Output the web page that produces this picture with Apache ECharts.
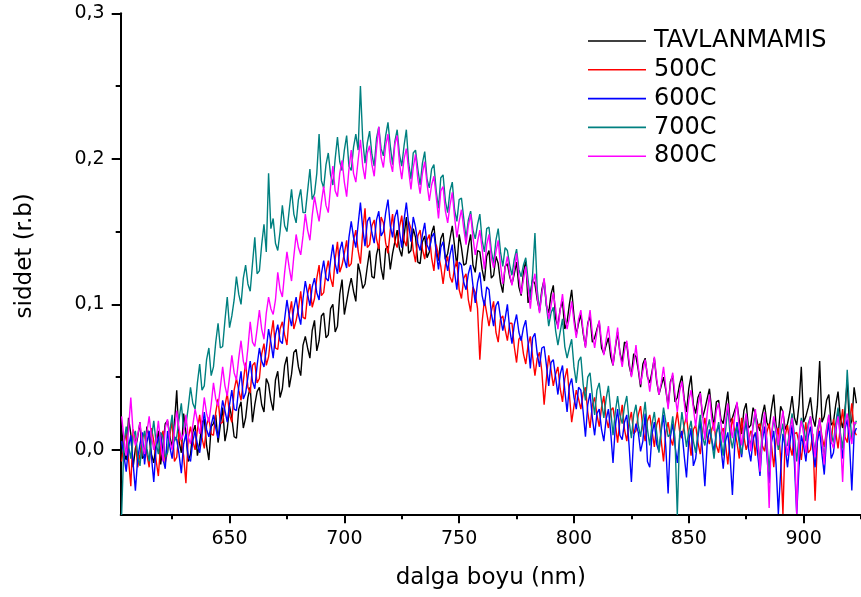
<!DOCTYPE html>
<html>
<head>
<meta charset="utf-8">
<script src="https://cdn.jsdelivr.net/npm/echarts@6.0.0/dist/echarts.min.js"></script>
<style>
html,body{margin:0;padding:0;background:#fff;}
#chart{width:861px;height:597px;}
</style>
</head>
<body>
<div id="chart"></div>
<script>
// ---- data ----
const seriesNames = ['TAVLANMAMIS', '500C', '600C', '700C', '800C'];
const xAxisName = 'dalga boyu (nm)';
const yAxisName = 'siddet (r.b)';
const xMajorTicks = [650, 700, 750, 800, 850, 900];
const xMinorTicks = [625, 675, 725, 775, 825, 875, 925];
const yMajorTicks = [0, 0.1, 0.2, 0.3];
const yMinorTicks = [0.05, 0.15, 0.25];

const wavelength = [
603,604,605,606,607,608,609,610,611,612,613,614,615,616,617,618,619,620,621,622,623,624,625,626,627,628,629,630,631,632,633,634,635,636,637,638,639,640,641,642,643,644,645,646,647,648,649,650,651,652,653,654,655,656,657,658,659,660,661,662,663,664,665,666,667,668,669,670,671,672,673,674,675,676,677,678,679,680,681,682,683,684,685,686,687,688,689,690,691,692,693,694,695,696,697,698,699,
700,701,702,703,704,705,706,707,708,709,710,711,712,713,714,715,716,717,718,719,720,721,722,723,724,725,726,727,728,729,730,731,732,733,734,735,736,737,738,739,740,741,742,743,744,745,746,747,748,749,750,751,752,753,754,755,756,757,758,759,760,761,762,763,764,765,766,767,768,769,770,771,772,773,774,775,776,777,778,779,780,781,782,783,784,785,786,787,788,789,790,791,792,793,794,795,796,797,798,799,
800,801,802,803,804,805,806,807,808,809,810,811,812,813,814,815,816,817,818,819,820,821,822,823,824,825,826,827,828,829,830,831,832,833,834,835,836,837,838,839,840,841,842,843,844,845,846,847,848,849,850,851,852,853,854,855,856,857,858,859,860,861,862,863,864,865,866,867,868,869,870,871,872,873,874,875,876,877,878,879,880,881,882,883,884,885,886,887,888,889,890,891,892,893,894,895,896,897,898,899,
900,901,902,903,904,905,906,907,908,909,910,911,912,913,914,915,916,917,918,919,920,921,922,923];

const tavlanmamis = [
0.015,-0.002,-0.007,0.022,0.011,-0.012,0.001,0.009,0.019,-0.006,
-0.004,0.016,0.008,-0.003,-0.009,0.004,0.013,-0.01,0.003,0.018,
0.02,0.009,0.002,0.018,0.041,0.006,-0.002,0.025,0.012,-0.008,
-0.003,0.012,0.017,-0.004,0.005,0.019,0.021,0.003,-0.007,0.016,
0.018,0.024,0.005,0.017,0.029,0.006,0.014,0.03,0.022,0.009,
0.008,0.028,0.033,0.015,0.022,0.036,0.043,0.019,0.031,0.04,
0.043,0.031,0.026,0.049,0.045,0.034,0.027,0.048,0.054,0.036,
0.042,0.058,0.064,0.043,0.052,0.067,0.069,0.057,0.051,0.072,
0.078,0.07,0.063,0.082,0.089,0.068,0.075,0.092,0.094,0.077,
0.079,0.097,0.1,0.081,0.085,0.107,0.117,0.093,0.102,0.111,
0.118,0.109,0.102,0.128,0.121,0.111,0.114,0.126,0.137,0.119,
0.118,0.134,0.141,0.125,0.117,0.138,0.14,0.124,0.135,0.143,
0.151,0.138,0.133,0.147,0.16,0.135,0.137,0.152,0.146,0.129,
0.128,0.143,0.147,0.132,0.136,0.149,0.154,0.138,0.13,0.145,
0.149,0.131,0.135,0.145,0.154,0.14,0.126,0.148,0.139,0.127,
0.128,0.14,0.148,0.127,0.122,0.137,0.136,0.124,0.116,0.133,
0.137,0.118,0.12,0.133,0.128,0.115,0.108,0.126,0.128,0.119,
0.114,0.121,0.129,0.112,0.106,0.122,0.13,0.101,0.108,0.117,
0.114,0.103,0.096,0.11,0.117,0.099,0.094,0.107,0.113,0.09,
0.085,0.097,0.102,0.083,0.088,0.1,0.11,0.092,0.079,0.087,
0.093,0.08,0.071,0.087,0.092,0.074,0.077,0.083,0.088,0.07,
0.066,0.072,0.077,0.064,0.058,0.07,0.081,0.067,0.06,0.074,
0.073,0.058,0.051,0.066,0.064,0.055,0.043,0.059,0.063,0.05,
0.046,0.054,0.063,0.047,0.038,0.044,0.05,0.041,0.03,0.047,
0.051,0.033,0.036,0.045,0.051,0.035,0.026,0.042,0.051,0.031,
0.025,0.036,0.04,0.022,0.028,0.035,0.042,0.027,0.016,0.033,
0.034,0.021,0.018,0.029,0.04,0.019,0.022,0.027,0.032,0.02,
0.011,0.027,0.032,0.015,0.017,0.029,0.025,0.018,0.013,0.024,
0.031,0.019,0.015,0.028,0.038,0.017,0.011,0.03,0.026,0.014,
0.018,0.026,0.037,0.022,0.017,0.031,0.057,0.019,0.023,0.029,
0.036,0.022,0.016,0.03,0.061,0.019,0.023,0.034,0.038,0.017,
0.019,0.031,0.04,0.022,0.015,0.027,0.048,0.016,0.02,0.043,
0.032];

const c500 = [
-0.008,0.004,0.012,-0.006,-0.025,0.014,0.006,-0.012,-0.003,0.009,
0.011,-0.003,-0.012,0.015,0.006,-0.007,-0.018,0.004,0.013,-0.009,
-0.001,0.01,0.02,-0.008,-0.005,0.013,0.006,-0.004,-0.023,0.008,
0.016,0.006,0.0,0.014,0.024,0.008,0.001,0.017,0.022,0.011,
0.01,0.026,0.035,0.018,0.019,0.03,0.039,0.024,0.019,0.041,
0.049,0.041,0.034,0.047,0.06,0.043,0.039,0.058,0.06,0.046,
0.049,0.066,0.073,0.058,0.064,0.078,0.089,0.07,0.069,0.083,
0.088,0.079,0.072,0.093,0.102,0.083,0.089,0.097,0.109,0.091,
0.09,0.107,0.114,0.098,0.104,0.118,0.127,0.106,0.108,0.122,
0.13,0.118,0.112,0.131,0.143,0.122,0.127,0.135,0.144,0.126,
0.128,0.144,0.151,0.137,0.128,0.15,0.166,0.139,0.141,0.154,
0.158,0.145,0.138,0.16,0.156,0.142,0.135,0.151,0.162,0.143,
0.139,0.153,0.161,0.144,0.14,0.157,0.152,0.137,0.129,0.147,
0.151,0.138,0.131,0.144,0.148,0.132,0.123,0.141,0.134,0.126,
0.114,0.127,0.133,0.119,0.115,0.125,0.13,0.11,0.104,0.118,
0.121,0.103,0.095,0.112,0.108,0.097,0.062,0.088,0.103,0.094,
0.085,0.095,0.102,0.081,0.074,0.09,0.092,0.083,0.075,0.087,
0.087,0.071,0.06,0.076,0.078,0.066,0.059,0.072,0.078,0.064,
0.051,0.063,0.067,0.054,0.031,0.049,0.065,0.055,0.044,0.052,
0.057,0.042,0.033,0.049,0.056,0.038,0.019,0.03,0.041,0.035,
0.028,0.039,0.043,0.026,0.015,0.031,0.036,0.024,0.016,0.029,
0.037,0.022,0.015,0.027,0.029,0.018,0.005,0.02,0.031,0.014,
0.006,0.019,0.026,0.011,0.013,0.024,0.03,0.015,0.006,0.02,
0.024,0.013,0.002,0.017,0.022,0.006,-0.008,0.012,0.019,0.008,
0.003,0.016,0.026,0.013,0.008,0.017,0.023,0.009,-0.004,0.014,
0.017,0.005,-0.003,0.012,0.022,0.009,0.004,0.014,0.019,0.003,
-0.002,0.011,0.015,0.004,-0.01,0.008,0.022,0.013,0.005,-0.006,
0.022,0.009,0.0,0.006,0.013,0.01,-0.004,0.016,0.018,0.003,
-0.001,0.012,0.018,0.004,-0.012,0.007,0.015,-0.006,-0.044,0.01,
0.017,0.003,-0.004,0.011,0.012,0.005,-0.007,0.008,0.019,-0.002,
0.0,0.011,-0.035,0.006,0.022,0.009,0.002,0.014,0.018,0.004,
0.021,0.012,0.001,0.016,0.028,0.009,0.005,0.019,0.032,0.013,
0.01];

const c600 = [
0.006,-0.004,-0.015,0.002,0.01,-0.009,-0.028,-0.006,0.004,0.012,
-0.01,0.005,0.013,-0.005,-0.022,0.001,0.008,0.011,-0.006,-0.013,
0.013,0.002,-0.006,0.009,0.007,-0.003,-0.016,0.004,0.011,-0.005,
-0.008,0.006,0.013,0.004,-0.002,0.011,0.026,0.014,0.009,0.017,
0.024,0.015,0.008,0.022,0.034,0.027,0.019,0.031,0.041,0.028,
0.027,0.043,0.054,0.035,0.039,0.05,0.061,0.047,0.042,0.058,
0.07,0.061,0.057,0.069,0.083,0.074,0.063,0.079,0.086,0.075,
0.073,0.09,0.103,0.092,0.085,0.097,0.105,0.093,0.086,0.104,
0.116,0.107,0.099,0.112,0.118,0.108,0.103,0.121,0.13,0.118,
0.116,0.13,0.141,0.128,0.121,0.137,0.143,0.131,0.125,0.146,
0.157,0.146,0.139,0.155,0.17,0.152,0.14,0.157,0.16,0.149,
0.142,0.158,0.164,0.147,0.15,0.163,0.172,0.154,0.146,0.16,
0.165,0.15,0.139,0.158,0.17,0.155,0.143,0.16,0.153,0.142,
0.137,0.148,0.156,0.141,0.137,0.146,0.149,0.136,0.124,0.139,
0.143,0.131,0.123,0.134,0.141,0.122,0.11,0.129,0.127,0.115,
0.11,0.121,0.127,0.113,0.101,0.115,0.122,0.106,0.099,0.112,
0.11,0.094,0.085,0.099,0.102,0.091,0.082,0.09,0.1,0.083,
0.073,0.086,0.093,0.081,0.075,0.084,0.089,0.074,0.056,0.077,
0.08,0.066,0.057,0.07,0.071,0.058,0.044,0.06,0.062,0.05,
0.038,0.052,0.058,0.041,0.026,0.044,0.049,0.036,0.028,0.043,
0.041,0.026,0.009,0.031,0.039,0.022,0.01,0.025,0.028,0.014,
0.006,0.021,0.028,0.012,-0.009,0.016,0.028,0.01,0.007,0.019,
0.024,0.003,-0.022,0.009,0.018,0.012,-0.001,0.006,0.025,-0.008,
-0.012,0.011,0.019,0.004,-0.001,0.013,0.024,0.002,-0.03,0.009,
0.018,0.003,-0.009,0.008,0.013,-0.004,-0.019,0.006,0.015,-0.011,
-0.006,0.009,0.02,-0.002,-0.025,0.004,0.014,0.007,-0.001,0.012,
0.017,0.002,-0.013,0.006,0.012,-0.005,-0.031,0.003,0.019,0.008,
-0.005,0.01,0.02,0.001,-0.008,0.007,0.012,-0.003,-0.018,0.006,
0.016,-0.004,-0.023,0.005,0.013,-0.01,-0.044,-0.015,0.011,0.002,
-0.012,0.004,0.017,-0.009,-0.044,-0.012,0.01,0.003,-0.008,0.009,
0.016,0.001,-0.012,0.006,0.013,-0.003,-0.017,0.008,0.019,-0.006,
-0.002,0.012,0.028,0.009,-0.006,0.014,0.021,0.004,-0.028,0.011,
0.015];

const c700 = [
-0.045,0.004,0.016,0.003,-0.006,0.009,0.013,-0.004,-0.011,0.007,
0.013,0.001,-0.008,0.008,0.02,0.005,-0.003,0.012,0.009,-0.005,
-0.002,0.013,0.024,0.006,0.009,0.021,0.032,0.014,0.017,0.029,
0.043,0.032,0.028,0.046,0.059,0.041,0.044,0.062,0.07,0.051,
0.057,0.074,0.087,0.07,0.071,0.089,0.105,0.084,0.092,0.103,
0.119,0.107,0.1,0.118,0.127,0.114,0.109,0.128,0.146,0.121,
0.123,0.141,0.155,0.136,0.19,0.152,0.159,0.142,0.137,0.15,
0.168,0.154,0.15,0.165,0.179,0.162,0.156,0.172,0.179,0.163,
0.163,0.178,0.193,0.172,0.176,0.19,0.217,0.185,0.18,0.196,
0.204,0.189,0.182,0.2,0.215,0.198,0.192,0.206,0.216,0.195,
0.192,0.208,0.217,0.206,0.25,0.213,0.197,0.211,0.219,0.203,
0.195,0.214,0.222,0.207,0.202,0.216,0.225,0.209,0.196,0.212,
0.22,0.203,0.195,0.209,0.22,0.197,0.186,0.204,0.206,0.193,
0.182,0.197,0.205,0.186,0.18,0.193,0.196,0.178,0.166,0.187,
0.189,0.171,0.163,0.178,0.184,0.165,0.157,0.172,0.173,0.159,
0.145,0.158,0.164,0.151,0.145,0.155,0.162,0.144,0.136,0.152,
0.153,0.137,0.128,0.144,0.152,0.136,0.126,0.139,0.137,0.127,
0.12,0.131,0.138,0.124,0.119,0.127,0.132,0.117,0.103,0.121,
0.149,0.11,0.095,0.108,0.115,0.099,0.085,0.094,0.098,0.082,
0.072,0.081,0.09,0.071,0.063,0.07,0.076,0.057,0.046,0.061,
0.064,0.045,0.034,0.05,0.053,0.037,0.024,0.041,0.046,0.033,
0.022,0.035,0.044,0.027,0.01,0.026,0.037,0.024,0.018,0.03,
0.037,0.02,0.008,0.024,0.031,0.017,0.009,0.021,0.033,0.014,
0.003,0.018,0.026,0.012,-0.002,0.015,0.029,0.019,0.009,0.011,
0.023,0.008,-0.045,0.01,0.026,0.014,0.002,0.013,0.02,0.006,
-0.002,0.012,0.024,0.009,0.003,0.014,0.021,0.006,-0.006,0.011,
0.019,0.007,-0.004,0.013,0.03,0.01,0.001,0.012,0.016,0.004,
-0.003,0.011,0.022,0.008,0.004,0.016,0.025,0.007,-0.008,0.013,
0.024,0.006,-0.015,0.009,0.021,0.012,0.0,0.01,0.018,0.003,
0.003,0.014,0.025,0.01,-0.008,0.009,0.022,0.016,0.006,0.018,
0.023,0.008,-0.001,0.014,0.021,0.006,-0.005,0.013,0.024,0.011,
0.005,0.018,0.029,0.012,0.001,0.02,0.055,0.027,0.007,0.016,
0.02];

const c800 = [
0.023,0.008,-0.004,0.014,0.036,0.012,0.003,0.01,0.019,0.004,
-0.003,0.012,0.023,0.009,0.0,0.006,0.02,0.005,-0.008,0.015,
0.021,0.006,0.0,0.013,0.027,0.015,0.007,0.011,0.024,0.009,
0.004,0.017,0.028,0.02,0.011,0.021,0.036,0.025,0.019,0.031,
0.046,0.035,0.03,0.043,0.057,0.044,0.037,0.05,0.065,0.053,
0.048,0.063,0.075,0.061,0.055,0.07,0.088,0.074,0.071,0.083,
0.096,0.083,0.076,0.094,0.105,0.097,0.093,0.103,0.122,0.11,
0.105,0.122,0.136,0.125,0.116,0.133,0.148,0.139,0.134,0.147,
0.162,0.151,0.144,0.161,0.174,0.165,0.157,0.17,0.181,0.168,
0.163,0.181,0.195,0.178,0.174,0.19,0.199,0.184,0.174,0.193,
0.206,0.19,0.184,0.199,0.213,0.195,0.186,0.204,0.209,0.196,
0.188,0.207,0.222,0.201,0.194,0.209,0.217,0.198,0.191,0.21,
0.216,0.197,0.186,0.2,0.207,0.192,0.179,0.194,0.203,0.186,
0.176,0.19,0.198,0.183,0.171,0.182,0.188,0.174,0.159,0.178,
0.181,0.164,0.156,0.168,0.177,0.16,0.146,0.157,0.165,0.152,
0.141,0.154,0.162,0.146,0.134,0.143,0.151,0.138,0.124,0.141,
0.148,0.132,0.125,0.136,0.144,0.127,0.114,0.125,0.133,0.121,
0.113,0.124,0.135,0.119,0.107,0.117,0.126,0.112,0.097,0.114,
0.121,0.105,0.094,0.107,0.118,0.101,0.09,0.099,0.108,0.097,
0.083,0.096,0.107,0.092,0.083,0.091,0.102,0.088,0.077,0.09,
0.096,0.082,0.07,0.085,0.096,0.08,0.07,0.081,0.089,0.075,
0.065,0.076,0.085,0.07,0.058,0.071,0.084,0.066,0.057,0.068,
0.075,0.061,0.05,0.059,0.072,0.057,0.045,0.054,0.062,0.052,
0.04,0.052,0.064,0.049,0.038,0.046,0.057,0.043,0.028,0.045,
0.053,0.038,0.026,0.04,0.047,0.033,0.019,0.034,0.041,0.029,
0.016,0.03,0.039,0.024,0.007,0.025,0.038,0.021,0.013,0.027,
0.032,0.018,0.005,0.02,0.032,0.017,0.008,0.023,0.033,0.014,
0.003,0.016,0.025,0.012,-0.001,0.018,0.028,0.011,-0.015,0.009,
0.026,0.005,-0.04,0.011,0.023,0.014,0.003,0.016,0.027,0.008,
-0.004,0.013,0.022,0.006,-0.044,0.008,0.02,0.011,-0.002,0.015,
0.023,0.009,-0.005,0.012,0.021,0.007,-0.01,0.015,0.024,0.006,
0.001,0.015,0.023,0.009,-0.022,0.017,0.025,0.012,0.004,0.019,
0.018];

const seriesValues = [tavlanmamis, c500, c600, c700, c800];
const seriesColors = ['#000000', '#ff0000', '#0000ff', '#008080', '#ff00ff'];

// ---- chart ----
const FONT = 'DejaVu Sans';
const X_MIN = 602.6, X_MAX = 925, Y_MIN = -0.0443, Y_MAX = 0.3;
const black = '#000000';
const fmtY = v => v.toFixed(1).replace('.', ',');

const chart = echarts.init(document.getElementById('chart'), null, {renderer: 'canvas'});

const option = {
  animation: false,
  backgroundColor: '#ffffff',
  grid: {left: 120.7, top: 13.3, right: -7.7, bottom: 82.7, containLabel: false},
  legend: {
    orient: 'vertical', left: 588, top: 29, padding: 0,
    itemWidth: 58, itemHeight: 1.6, itemGap: 4.8,
    icon: 'rect',
    selectedMode: false,
    textStyle: {fontSize: 24, fontFamily: FONT, color: black, lineHeight: 24, padding: [0, 0, 0, 3]},
    data: seriesNames
  },
  xAxis: [
    {
      type: 'value', min: X_MIN, max: X_MAX, position: 'bottom',
      name: xAxisName, nameLocation: 'middle', nameGap: 52,
      nameTextStyle: {fontSize: 23, fontFamily: FONT, color: black},
      axisLine: {show: true, onZero: false, lineStyle: {color: black, width: 2}},
      axisTick: {show: true, customValues: xMajorTicks, length: 9, lineStyle: {color: black, width: 2}},
      axisLabel: {show: true, customValues: xMajorTicks, margin: 15, fontSize: 19, fontFamily: FONT, color: black},
      splitLine: {show: false}
    },
    {
      type: 'value', min: X_MIN, max: X_MAX, position: 'bottom',
      axisLine: {show: false, onZero: false},
      axisTick: {show: true, customValues: xMinorTicks, length: 5, lineStyle: {color: black, width: 2}},
      axisLabel: {show: false},
      splitLine: {show: false}
    }
  ],
  yAxis: [
    {
      type: 'value', min: Y_MIN, max: Y_MAX, position: 'left',
      name: yAxisName, nameLocation: 'middle', nameGap: 84,
      nameTextStyle: {fontSize: 23, fontFamily: FONT, color: black, padding: [0, 0, 0, 16]},
      axisLine: {show: true, onZero: false, lineStyle: {color: black, width: 2}},
      axisTick: {show: true, customValues: yMajorTicks, length: 9, lineStyle: {color: black, width: 2}},
      axisLabel: {show: true, customValues: yMajorTicks, margin: 16, fontSize: 19, fontFamily: FONT, color: black, formatter: fmtY},
      splitLine: {show: false}
    },
    {
      type: 'value', min: Y_MIN, max: Y_MAX, position: 'left',
      axisLine: {show: false, onZero: false},
      axisTick: {show: true, customValues: yMinorTicks, length: 5, lineStyle: {color: black, width: 2}},
      axisLabel: {show: false},
      splitLine: {show: false}
    }
  ],
  series: seriesNames.map((name, i) => ({
    name: name,
    type: 'line',
    xAxisIndex: 0,
    yAxisIndex: 0,
    symbol: 'none',
    clip: true,
    color: seriesColors[i],
    lineStyle: {color: seriesColors[i], width: 1.4},
    data: wavelength.map((w, j) => [w, seriesValues[i][j]])
  }))
};

chart.setOption(option);
</script>
</body>
</html>
